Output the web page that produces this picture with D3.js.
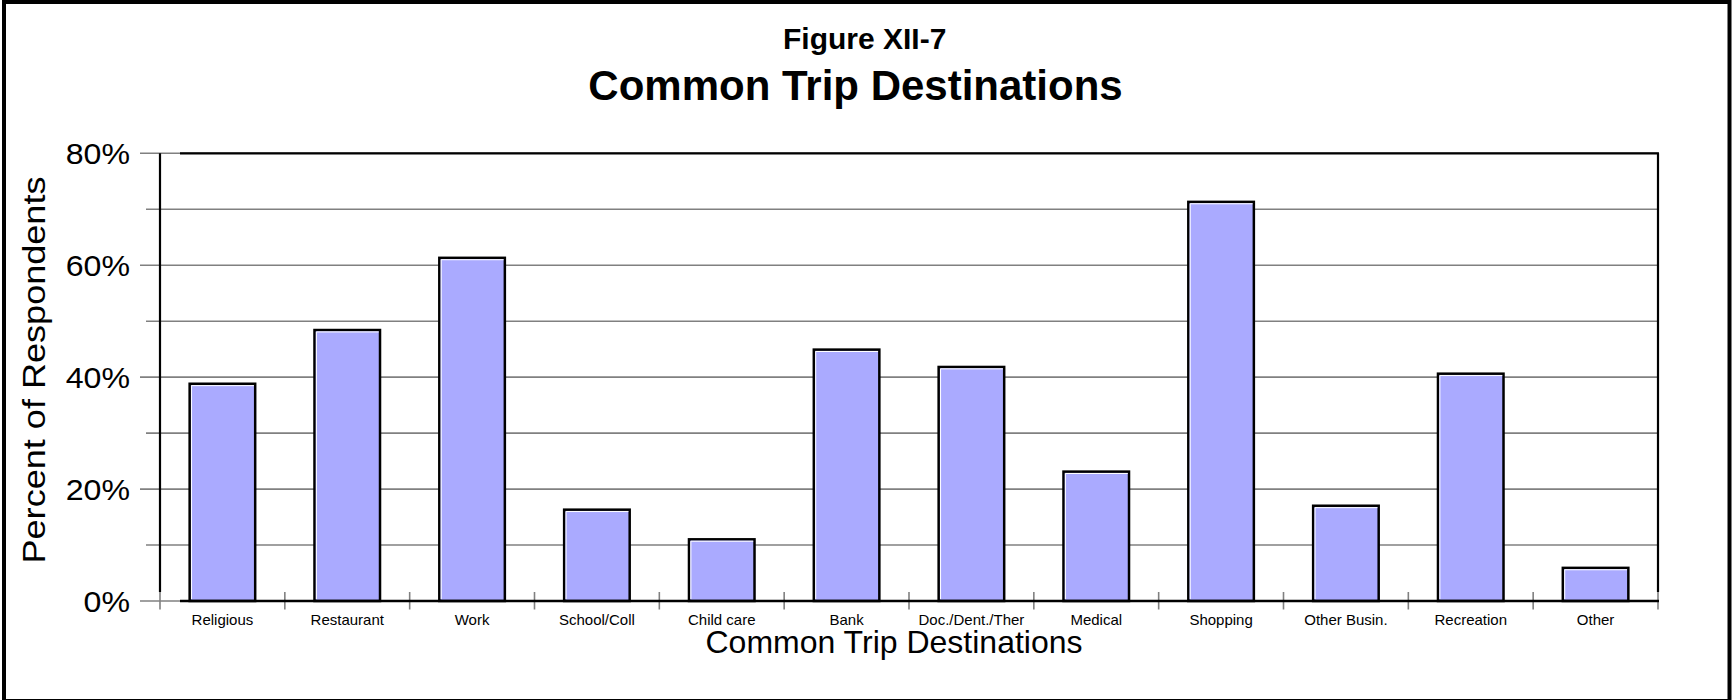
<!DOCTYPE html>
<html>
<head>
<meta charset="utf-8">
<script src="https://cdn.jsdelivr.net/npm/d3@7"></script>
<style>
  html, body { margin: 0; padding: 0; background: #fff; }
  svg { display: block; }
  text { font-family: "Liberation Sans", Arial, Helvetica, sans-serif; fill: #000; }
</style>
</head>
<body>
<svg id="chart" width="1732" height="700"></svg>
<script>
// Survey results: share of respondents naming each trip destination
const categories = ["Religious", "Restaurant", "Work", "School/Coll", "Child care", "Bank",
  "Doc./Dent./Ther", "Medical", "Shopping", "Other Busin.", "Recreation", "Other"];
const percents = [39.0, 48.6, 61.5, 16.5, 11.2, 45.1, 42.0, 23.3, 71.5, 17.2, 40.8, 6.1];
const majorTicks = [0, 20, 40, 60, 80];
const minorTicks = [10, 30, 50, 70];

const figureLabel = "Figure XII-7";
const chartTitle = "Common Trip Destinations";
const xTitle = "Common Trip Destinations";
const yTitle = "Percent of Respondents";

const svg = d3.select("#chart");
const W = 1732, H = 700;
const plot = { left: 160, right: 1658, top: 153.3, bottom: 601 };

const x = d3.scaleBand()
  .domain(categories)
  .range([plot.left, plot.right])
  .paddingInner(0.475)
  .paddingOuter(0.2375);
const step = (plot.right - plot.left) / categories.length;

const y = d3.scaleLinear().domain([0, 80]).range([plot.bottom, plot.top]);

// outer frame
svg.append("rect")
  .attr("x", 4).attr("y", 2)
  .attr("width", W - 6.5).attr("height", H - 1)
  .attr("fill", "none").attr("stroke", "#000").attr("stroke-width", 4);

// titles
svg.append("text")
  .attr("x", 864.7).attr("y", 49.3)
  .attr("text-anchor", "middle")
  .attr("font-size", 30).attr("font-weight", "bold")
  .text(figureLabel);

svg.append("text")
  .attr("x", 855.5).attr("y", 100)
  .attr("text-anchor", "middle")
  .attr("font-size", 42).attr("font-weight", "bold")
  .text(chartTitle);

// horizontal gridlines with their tick stubs left of the axis
const grid = svg.append("g");
grid.selectAll("line.major")
  .data(majorTicks)
  .join("line")
  .attr("class", "major")
  .attr("x1", 140).attr("x2", plot.right)
  .attr("y1", d => y(d)).attr("y2", d => y(d))
  .attr("stroke", "#808080").attr("stroke-width", 1.6);
grid.selectAll("line.minor")
  .data(minorTicks)
  .join("line")
  .attr("class", "minor")
  .attr("x1", 146).attr("x2", plot.right)
  .attr("y1", d => y(d)).attr("y2", d => y(d))
  .attr("stroke", "#808080").attr("stroke-width", 1.6);

// category ticks at band boundaries
const boundaries = d3.range(categories.length + 1).map(i => plot.left + i * step);
svg.append("g").selectAll("line")
  .data(boundaries)
  .join("line")
  .attr("x1", d => d).attr("x2", d => d)
  .attr("y1", plot.bottom - 9).attr("y2", plot.bottom + 8.5)
  .attr("stroke", "#808080").attr("stroke-width", 1.6);

// plot frame
const frame = svg.append("g").attr("stroke", "#000").attr("stroke-width", 2.2).attr("fill", "none");
frame.append("line").attr("x1", 180).attr("x2", plot.right + 1).attr("y1", plot.top).attr("y2", plot.top);
frame.append("line").attr("x1", plot.right).attr("x2", plot.right).attr("y1", plot.top).attr("y2", plot.bottom - 9);
frame.append("line").attr("x1", plot.left).attr("x2", plot.left).attr("y1", plot.top).attr("y2", plot.bottom - 9);

// bars
const bars = svg.append("g");
bars.selectAll("rect")
  .data(percents)
  .join("rect")
  .attr("x", (d, i) => x(categories[i]))
  .attr("y", d => y(d) + 1)
  .attr("width", x.bandwidth())
  .attr("height", d => y(0) - y(d) - 1)
  .attr("fill", "#AAAAFF")
  .attr("stroke", "#000")
  .attr("stroke-width", 2.5);

// white inner highlight along top and left edges
bars.selectAll("path")
  .data(percents)
  .join("path")
  .attr("d", (d, i) => {
    const x0 = x(categories[i]) + 1.9;
    const x1 = x(categories[i]) + x.bandwidth() - 1.3;
    const yt = y(d) + 2.9;
    return `M${x0},${y(0) - 2}L${x0},${yt}L${x1},${yt}`;
  })
  .attr("fill", "none")
  .attr("stroke", "#fff")
  .attr("stroke-width", 1);

// baseline
svg.append("line")
  .attr("x1", 180).attr("x2", plot.right + 1)
  .attr("y1", plot.bottom).attr("y2", plot.bottom)
  .attr("stroke", "#000").attr("stroke-width", 2.4);

// y tick labels
svg.append("g").selectAll("text")
  .data(majorTicks)
  .join("text")
  .attr("x", 130).attr("y", d => y(d) + 10.8)
  .attr("text-anchor", "end")
  .attr("font-size", 30)
  .text(d => d + "%")
  .each(function () {
    const w = this.getComputedTextLength();
    d3.select(this).attr("textLength", w * 1.07).attr("lengthAdjust", "spacingAndGlyphs");
  });

// category labels
svg.append("g").selectAll("text")
  .data(categories)
  .join("text")
  .attr("x", d => x(d) + x.bandwidth() / 2)
  .attr("y", 625)
  .attr("text-anchor", "middle")
  .attr("font-size", 15)
  .text(d => d);

// axis titles
svg.append("text")
  .attr("x", 894).attr("y", 653)
  .attr("text-anchor", "middle")
  .attr("font-size", 32)
  .text(xTitle);

svg.append("text")
  .attr("transform", "translate(45,370) rotate(-90)")
  .attr("text-anchor", "middle")
  .attr("font-size", 31)
  .attr("textLength", 387)
  .attr("lengthAdjust", "spacingAndGlyphs")
  .text(yTitle);
</script>
</body>
</html>
